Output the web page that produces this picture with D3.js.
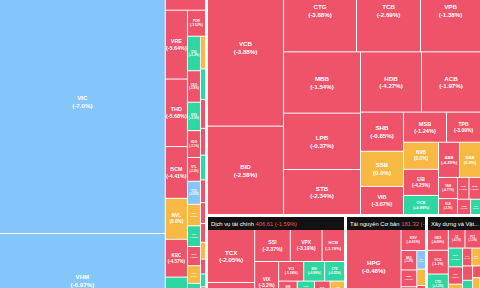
<!DOCTYPE html>
<html>
<head>
<meta charset="utf-8">
<script src="https://cdn.jsdelivr.net/npm/d3@7"></script>
<style>
  body { margin: 0; background: #fff; }
  svg { display: block; }
  .cell text { font-family: "Liberation Sans", Arial, sans-serif; font-weight: bold; fill: #fff; text-anchor: middle; dominant-baseline: central; }
  .head text { font-family: "Liberation Sans", Arial, sans-serif; font-size: 5.8px; }
</style>
</head>
<body>
<script>
// sectors (weight = share of the map, index value and change of each sector)
var sectorNames = ["Bất động sản", "Ngân hàng", "Dịch vụ tài chính", "Tài nguyên Cơ bản", "Xây dựng và Vật liệu"];
var sectorIndex = [398.74, 612.05, 406.61, 181.32, 149.87];
var sectorChange = [-5.21, -2.63, -1.59, -0.92, -1.74];
var sectorWeight = [77584, 71500, 15707, 9153, 6215];

// Bat dong san
var reTickers = ["VIC","VHM","VPL","VRE","THD","BCM","NVL","KBC","KDH","DXG","PDR","DIG","CEO","DXS","HDG","NTL","TCH","SZC","IDC","SCR","HDC","AGG","NBB","CRE","QCG","SJS","LHG","TIP","D2D","ITC","HQC","KHG","SGR","CKG","DRH","LDG","TDH","API","IJC","PTL"];
var reCaps = [43824,15604,1640,1530,1500,1150,910,840,640,480,470,450,410,370,350,310,300,280,270,250,230,210,190,175,165,155,145,135,125,115,105,95,85,75,65,55,45,40,35,30];
var reChanges = [-7.0,-6.97,-6.2,-5.64,-5.68,-4.41,0,-4.57,0.56,-3.9,-3.52,1.2,-2.8,0.9,-3.1,-2.2,-6.95,0,1.5,-1.8,0,2.1,-4.1,-2.5,0,0.8,-1.3,-2.0,1.1,-3.3,-5.0,-1.9,0,-0.5,0.7,-4.2,-6.9,-2.7,-1.6,0];

// Ngan hang
var bankTickers = ["VCB","BID","CTG","TCB","VPB","MBB","LPB","STB","HDB","ACB","SHB","SSB","VIB","MSB","TPB","NVB","EIB","OCB","ABB","BAB","VAB","KLB","PGB","BVB","SGB","VBB"];
var bankCaps = [11856,6688,5986,5248,4920,4700,4320,3450,3660,3540,1677,1505,1204,1290,1020,945,910,665,735,735,400,300,250,250,200,150];
var bankChanges = [-3.88,-2.58,-3.88,-2.69,-1.38,-1.54,-0.37,-2.34,-4.27,-1.97,-0.85,0,-3.67,-1.24,-3.09,0,-4.25,0.99,-4.29,0,-4.77,-2.1,-1.5,-3.0,-0.9,0.9];

// Dich vu tai chinh
var finTickers = ["TCX","VND","SSI","VPX","HCM","VIX","FTS","VCI","BSI","CTS","SHS","MBS","VDS","ORS","BVS","AGR","TVS","APG","DSC","EVS","PSI","CSI","TCI","WSS","HBS","IVS","BMS","VFS","AAS","TVB"];
var finCaps = [2438,2070,1110,990,700,966,575,480,400,380,300,280,260,240,220,200,180,160,150,140,130,120,110,100,90,80,70,60,50,40];
var finChanges = [-2.05,-2.41,-2.37,-3.19,-1.79,-3.2,-2.6,-1.24,0.98,0.55,-1.5,0.7,-2.2,1.0,-1.1,0,-2.4,1.9,-0.8,-1.6,2.2,-3.0,0,-1.2,0.9,-2.0,-1.0,1.4,-0.6,-1.9];

// Tai nguyen co ban
var resTickers = ["HPG","HSG","KSV","NKG","SMC","TLH","MSR","VGS","HMC","TVN","POM","TIS","DTL","TNI"];
var resCaps = [3959,1284,504,300,260,230,210,190,160,140,120,100,80,60];
var resChanges = [-0.48,-1.62,-0.91,-1.2,-2.1,-3.0,0.8,-1.9,-6.9,0,-2.5,1.1,-0.7,-4.0];

// Xay dung va vat lieu
var conTickers = ["GEX","VCG","CTD","VGC","HHV","CII","PC1","DPG","HT1","FCN","LCG","HBC","C4G","BMP","VCS","PTB","CTR","HUT","G36","KSB","TCD","DIH","SCG","HDA","CTI","HHS","THG"];
var conCaps = [420,480,400,360,320,300,280,260,240,220,200,180,160,150,140,130,120,110,100,90,80,70,60,50,45,40,37];
var conChanges = [-6.69,-1.1,1.2,-3.0,-2.5,-4.1,-1.3,0.6,-0.9,0,-2.1,1.8,-1.4,0,-0.8,0.5,-1.7,-6.9,0.6,-2.2,0,-1.0,1.3,-3.1,-0.6,0.4,-2.4];

var sectorTickers = [reTickers, bankTickers, finTickers, resTickers, conTickers];
var sectorCaps = [reCaps, bankCaps, finCaps, resCaps, conCaps];
var sectorChanges = [reChanges, bankChanges, finChanges, resChanges, conChanges];

function fmt(c) {
  var s = Number.isInteger(c) ? c.toFixed(1) : String(c);
  return (c > 0 ? "+" : "") + s;
}

function cellColor(c) {
  if (c <= -6.9) return "#84c5fa";   // floor
  if (c >= 6.9) return "#c36bd9";    // ceiling
  if (c < 0) return "#ef5369";
  if (c > 0) return "#2ed6a1";
  return "#f7b943";
}

// squarified tiling that starts with a column and alternates direction each row
function hcSquarify(parent, x0, y0, x1, y1) {
  var k = (x1 - x0) * (y1 - y0) / parent.value,
      dir = 0, row = [], rowArea = 0;

  function lastRatio(extra) {
    var side = dir === 0 ? y1 - y0 : x1 - x0,
        t = (rowArea + extra) / side,
        len = row[row.length - 1].value * k / t;
    return Math.max(t / len, len / t);
  }
  function layRow() {
    var side = dir === 0 ? y1 - y0 : x1 - x0,
        t = rowArea / side,
        pos = dir === 0 ? y0 : x0;
    row.forEach(function (n) {
      var len = n.value * k / t;
      if (dir === 0) { n.x0 = x0; n.x1 = x0 + t; n.y0 = pos; n.y1 = pos + len; }
      else { n.y0 = y0; n.y1 = y0 + t; n.x0 = pos; n.x1 = pos + len; }
      pos += len;
    });
    if (dir === 0) x0 += t; else y0 += t;
    dir = 1 - dir;
    row = []; rowArea = 0;
  }

  parent.children.forEach(function (n) {
    var a = n.value * k;
    if (row.length && lastRatio(a) > lastRatio(0)) layRow();
    row.push(n);
    rowArea += a;
  });
  if (row.length) layRow();
}

var data = {
  children: sectorNames.map(function (name, i) {
    var total = d3.sum(sectorCaps[i]);
    return {
      name: name, index: sectorIndex[i], change: sectorChange[i],
      children: sectorTickers[i].map(function (t, j) {
        return { name: t, change: sectorChanges[i][j], value: sectorCaps[i][j] / total * sectorWeight[i] };
      })
    };
  })
};

var root = d3.hierarchy(data).sum(function (d) { return d.value || 0; });

d3.treemap()
  .size([480, 370])
  .tile(hcSquarify)
  .paddingInner(function (d) { return d.depth === 0 ? 3 : 1; })
  .paddingTop(function (d) { return d.depth === 1 ? 13 : 0; })(root);

var svg = d3.select("body").append("svg")
  .attr("width", 480)
  .attr("height", 288);

var g = svg.append("g").attr("transform", "translate(0,-43)");

// cells
var cells = g.selectAll("g.cell")
  .data(root.leaves())
  .join("g")
  .attr("class", "cell");

cells.append("rect")
  .attr("x", function (d) { return d.x0; })
  .attr("y", function (d) { return d.y0; })
  .attr("width", function (d) { return Math.max(0, d.x1 - d.x0); })
  .attr("height", function (d) { return Math.max(0, d.y1 - d.y0); })
  .attr("fill", function (d) { return cellColor(d.data.change); });

cells.each(function (d) {
  var w = d.x1 - d.x0, h = d.y1 - d.y0;
  var f = Math.min(6.2, Math.sqrt(w * h) / 6.2, w / 3.9, h / 2.8);
  if (f < 1.8) return;
  var cx = (d.x0 + d.x1) / 2, cy = (d.y0 + d.y1) / 2;
  var sel = d3.select(this);
  sel.append("text")
    .attr("x", cx).attr("y", cy - 0.63 * f)
    .style("font-size", f + "px")
    .text(d.data.name);
  sel.append("text")
    .attr("x", cx).attr("y", cy + 0.63 * f)
    .style("font-size", f + "px")
    .text("(" + fmt(d.data.change) + "%)");
});

// sector headers
var heads = g.selectAll("g.head")
  .data(root.children)
  .join("g")
  .attr("class", "head");

heads.append("rect")
  .attr("x", function (d) { return d.x0; })
  .attr("y", function (d) { return d.y0; })
  .attr("width", function (d) { return d.x1 - d.x0; })
  .attr("height", 13)
  .attr("fill", "#121212");

heads.each(function (d) {
  var avail = d.x1 - d.x0 - 3;
  var t = d3.select(this).append("text")
    .attr("x", d.x0 + 3)
    .attr("y", d.y0 + 8.8);
  var nm = t.append("tspan").attr("fill", "#fff").text(d.data.name);
  if (nm.node().getComputedTextLength() > avail) {
    // name too long: cut it and end with dots
    var s = d.data.name;
    while (s.length > 1) {
      s = s.slice(0, -1);
      nm.text(s + "...");
      if (nm.node().getComputedTextLength() <= avail) break;
    }
  } else {
    var v = " " + d.data.index.toFixed(2) + " (" + fmt(d.data.change) + "%)";
    var val = t.append("tspan").attr("fill", "#ff4a5c").text(v);
    // value cut at the sector edge
    while (v.length > 1 && t.node().getComputedTextLength() > avail + 1) {
      v = v.slice(0, -1);
      val.text(v);
    }
  }
});
</script>
</body>
</html>
